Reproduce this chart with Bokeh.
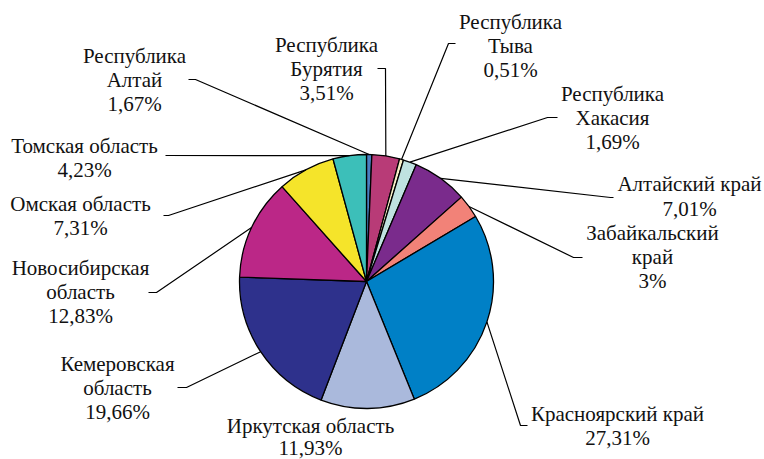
import math
from bokeh.plotting import figure
from bokeh.models import Range1d, ColumnDataSource
from bokeh.core.properties import value
from bokeh.embed import file_html
from bokeh.resources import INLINE

# ---- data (clockwise from 12 o'clock) ----
regions = ["Республика Алтай", "Республика Бурятия", "Республика Тыва", "Республика Хакасия",
           "Алтайский край", "Забайкальский край", "Красноярский край", "Иркутская область",
           "Кемеровская область", "Новосибирская область", "Омская область", "Томская область"]
# slice sizes as drawn in the picture (%)
shares = [0.67, 3.51, 0.51, 1.69, 7.01, 3.0, 27.31, 11.93, 19.66, 12.83, 7.31, 4.23]
# printed share labels
share_labels = ["1,67%", "3,51%", "0,51%", "1,69%", "7,01%", "3%", "27,31%", "11,93%",
                "19,66%", "12,83%", "7,31%", "4,23%"]
colors = ["#4a7fc0", "#b83b77", "#f8f0c8", "#bfe2e0", "#7a2b8c", "#f28278", "#0080c6",
          "#aab9dc", "#2e318c", "#bb2787", "#f5e42a", "#3cbfb9"]

# label line breaks
label_names = [["Республика", "Алтай"], ["Республика", "Бурятия"], ["Республика", "Тыва"],
               ["Республика", "Хакасия"], ["Алтайский край"], ["Забайкальский", "край"],
               ["Красноярский край"], ["Иркутская область"], ["Кемеровская", "область"],
               ["Новосибирская", "область"], ["Омская область"], ["Томская область"]]

# ---- layout (image pixel coords) ----
W, H = 764, 459
CX, CY, R = 366, 281, 127
label_pos = [(134, 55), (326, 44), (510, 21), (612, 93), (689, 183), (652, 232),
             (617, 413), (310, 425), (117, 363), (80, 267), (80, 203), (84, 145)]
label_lh = [24, 24, 24, 24, 25, 24, 24, 22, 24, 24, 24, 24]
leader_pts = [[(188, 79), (195, 79)], [(377, 68), (385, 68)], [(455, 43), (448, 43)],
              [(557, 117), (547, 117)], [(613, 197), (610, 197)], [(582, 257), (573, 257)],
              [(527, 425), (520, 425)], None, [(177, 387), (186, 387)],
              [(148, 292), (156, 292)], [(163, 215), (168, 215)], [(165, 155)]]

def fy(y):
    return H - y

p = figure(width=W, height=H, output_backend="svg", toolbar_location=None,
           x_range=Range1d(0, W), y_range=Range1d(0, H), min_border=0,
           outline_line_color=None)
p.axis.visible = False
p.grid.visible = False
p.background_fill_color = "white"
p.border_fill_color = "white"

total = sum(shares)
starts, ends, mids = [], [], []
c = 0.0
for s in shares:
    c0 = c / total
    c += s
    c1 = c / total
    starts.append(math.pi / 2 - 2 * math.pi * c0)
    ends.append(math.pi / 2 - 2 * math.pi * c1)
    mids.append(2 * math.pi * (c0 + c1) / 2)

src = ColumnDataSource(dict(start=starts, end=ends, color=colors))
p.wedge(x=CX, y=fy(CY), radius=R, start_angle="start", end_angle="end", direction="clock",
        fill_color="color", line_color="black", line_width=1.3, source=src)

# leader lines
xs, ys = [], []
for pts, m in zip(leader_pts, mids):
    if pts is None:
        continue
    px = CX + R * math.sin(m)
    py = CY - R * math.cos(m)
    xs.append([q[0] for q in pts] + [px])
    ys.append([fy(q[1]) for q in pts] + [fy(py)])
p.multi_line(xs=xs, ys=ys, line_color="black", line_width=1.2)

# labels
tx, ty, tt = [], [], []
for names, pct, (lx, ly), lh in zip(label_names, share_labels, label_pos, label_lh):
    lines = names + [pct]
    for i, ln in enumerate(lines):
        tx.append(lx)
        ty.append(fy(ly + i * lh))
        tt.append(ln)
tsrc = ColumnDataSource(dict(x=tx, y=ty, text=tt))
p.text(x="x", y="y", text="text", text_align="center", text_baseline="middle",
       text_font=value("Liberation Serif"), text_font_size="21px", text_color="#111111",
       source=tsrc)

open("out.html", "w").write(file_html(p, INLINE))
